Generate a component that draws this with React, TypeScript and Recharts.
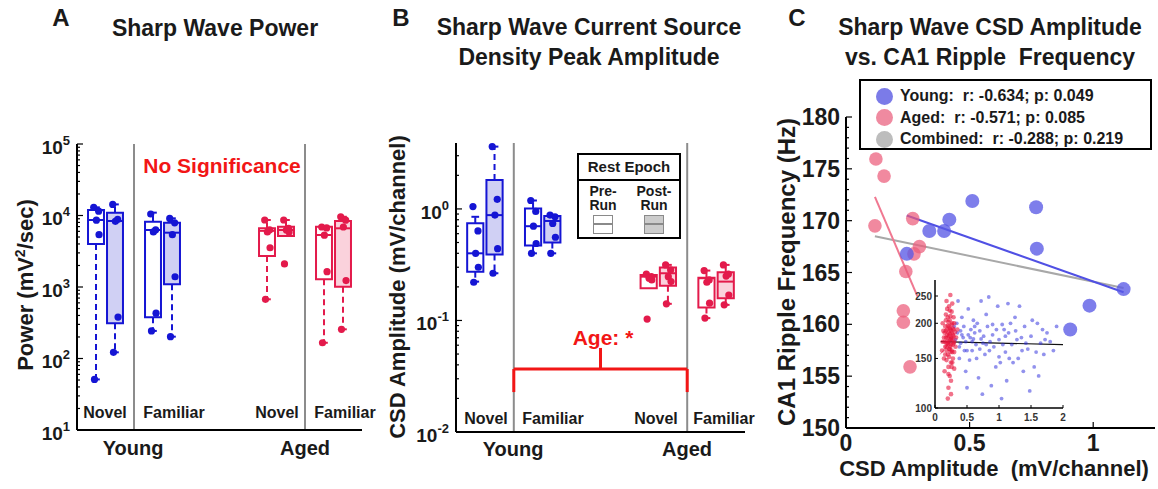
import React from "react";
import {
  ComposedChart,
  Scatter,
  XAxis,
  YAxis,
  ReferenceArea,
  ReferenceLine,
} from "recharts";

const FONT = '"Liberation Sans", Arial, Helvetica, sans-serif';
const INK = "#1a1a1a";
const BLUE = "#1515d4";
const BLUE_FILL = "#d0d0f4";
const RED = "#e31a4b";
const RED_FILL = "#fad2dc";
const SIG_RED = "#f21616";

// box positions on a numeric x axis: Young Novel pre/post, Young Familiar pre/post, Aged Novel..., Aged Familiar...
const groupPos = [1, 2, 4, 5, 10, 11, 13, 14];
const groupAge = ["young", "young", "young", "young", "aged", "aged", "aged", "aged"];
const groupEpoch = ["pre", "post", "pre", "post", "pre", "post", "pre", "post"];
const dividers = [3, 12];

// A: sharp wave power (mV^2/sec)
const powerQ1 = [3990, 310, 377, 1090, 2720, 5170, 1280, 1010];
const powerMed = [8650, 8380, 6270, 5750, 6100, 6270, 5340, 6620];
const powerQ3 = [11900, 10960, 8200, 7940, 6620, 6980, 6980, 8380];
const powerLo = [51, 122, 243, 202, 673, 5170, 166, 256];
const powerHi = [13000, 14300, 10960, 9130, 8650, 8650, 7000, 9600];
const powerPts = [
  [13000, 11500, 8600, 5400, 51],
  [14300, 8800, 8300, 380, 122],
  [10500, 6300, 5900, 430, 243],
  [9100, 7900, 5400, 1390, 202],
  [8650, 6300, 5900, 3540, 673],
  [8650, 6600, 6270, 5900, 2100],
  [6900, 6700, 5300, 1640, 166],
  [9600, 8600, 6900, 1230, 256],
];

// B: CSD peak amplitude (mV/channel)
const csdQ1 = [0.274, 0.39, 0.47, 0.5, 0.194, 0.205, 0.131, 0.158];
const csdMed = [0.4, 0.88, 0.7, 0.78, 0.247, 0.265, 0.239, 0.223];
const csdQ3 = [0.744, 1.82, 1.01, 0.865, 0.256, 0.298, 0.242, 0.27];
const csdLo = [0.223, 0.265, 0.4, 0.4, 0.194, 0.141, 0.105, 0.138];
const csdHi = [0.85, 3.62, 1.19, 0.88, 0.261, 0.315, 0.28, 0.315];
const csdPts = [
  [1.05, 0.635, 0.4, 0.3, 0.22],
  [3.62, 1.22, 0.88, 0.44, 0.265],
  [1.19, 0.95, 0.7, 0.49, 0.4],
  [0.88, 0.85, 0.74, 0.557, 0.4],
  [0.261, 0.247, 0.239, 0.231, 0.103],
  [0.315, 0.284, 0.247, 0.223, 0.141],
  [0.28, 0.231, 0.22, 0.143, 0.105],
  [0.315, 0.261, 0.25, 0.169, 0.138],
];
// "Age: *" bracket spanning Familiar (young) .. Novel (aged)
const bracketX = [3, 7.5, 12];
const bracketY = [0.0228, 0.0367, 0.0567];

// C: CSD amplitude vs CA1 ripple frequency
const youngCsd = [0.246, 0.337, 0.397, 0.418, 0.511, 0.769, 0.772, 1.123, 0.985, 0.907];
const youngFreq = [166.8, 169.0, 169.0, 170.1, 171.9, 171.3, 167.3, 163.4, 161.8, 159.5];
const agedCsd = [0.121, 0.154, 0.117, 0.27, 0.297, 0.275, 0.242, 0.232, 0.232, 0.259];
const agedFreq = [175.95, 174.3, 169.5, 170.2, 167.5, 166.8, 165.1, 161.3, 160.2, 155.9];
const youngFit = [[0.246, 170.5], [1.123, 163.1]];
const agedFit = [[0.117, 172.3], [0.289, 162.7]];
const combinedFit = [[0.117, 168.5], [1.123, 163.5]];
const legendRows = [
  { name: "Young:", stats: "r: -0.634; p: 0.049", color: "#7b7be8" },
  { name: "Aged:", stats: "r: -0.571; p: 0.085", color: "#ef8aa0" },
  { name: "Combined:", stats: "r: -0.288; p: 0.219", color: "#bdbdbd" },
];

// inset: individual events
const insetAged = [
  [0.12, 172], [0.15, 185], [0.18, 160], [0.2, 178], [0.22, 195], [0.25, 168], [0.28, 182], [0.3, 158],
  [0.14, 150], [0.17, 205], [0.21, 140], [0.24, 212], [0.27, 175], [0.19, 190], [0.23, 162], [0.26, 198],
  [0.29, 170], [0.16, 165], [0.13, 188], [0.31, 186], [0.2, 155], [0.22, 230], [0.25, 125], [0.18, 240],
  [0.27, 145], [0.15, 135], [0.24, 252], [0.21, 118], [0.33, 178], [0.11, 160], [0.26, 220], [0.19, 173],
  [0.23, 183], [0.28, 192], [0.17, 178], [0.3, 200], [0.21, 168], [0.25, 188], [0.14, 178], [0.32, 165],
  [0.2, 210], [0.28, 150], [0.24, 175], [0.18, 148], [0.26, 160], [0.22, 180], [0.16, 195], [0.29, 210],
  [0.23, 130], [0.35, 190], [0.12, 200], [0.27, 235], [0.2, 108], [0.3, 138], [0.19, 225], [0.25, 112],
  [0.21, 185], [0.24, 165], [0.27, 158], [0.18, 170], [0.22, 152], [0.26, 178], [0.2, 196], [0.29, 180],
  [0.17, 188], [0.23, 205], [0.25, 145], [0.3, 172], [0.16, 155], [0.28, 168], [0.22, 172], [0.24, 190],
  [0.19, 182], [0.21, 202], [0.23, 192], [0.26, 185], [0.18, 165], [0.24, 158], [0.27, 200], [0.2, 170],
  [0.15, 172], [0.22, 162], [0.25, 176], [0.29, 190], [0.17, 215], [0.23, 222], [0.21, 132], [0.26, 140],
];
const insetYoung = [
  [0.35, 185], [0.4, 170], [0.45, 195], [0.5, 160], [0.55, 178], [0.6, 205], [0.65, 150], [0.7, 188],
  [0.75, 170], [0.8, 215], [0.85, 160], [0.9, 182], [0.95, 140], [1.0, 175], [1.05, 198], [1.1, 158],
  [1.15, 185], [1.2, 168], [1.25, 210], [1.3, 150], [1.35, 178], [1.4, 195], [1.45, 162], [1.5, 180],
  [1.55, 140], [1.6, 200], [1.65, 170], [1.7, 155], [1.75, 185], [1.8, 172], [0.38, 150], [0.42, 210],
  [0.48, 135], [0.52, 225], [0.58, 172], [0.62, 185], [0.68, 128], [0.72, 240], [0.78, 155], [0.82, 195],
  [0.88, 120], [0.92, 165], [0.98, 230], [1.02, 145], [1.08, 190], [1.12, 125], [1.18, 200], [1.22, 145],
  [1.28, 175], [1.32, 230], [1.38, 135], [1.42, 170], [1.48, 115], [1.52, 205], [1.58, 158], [1.62, 130],
  [1.68, 190], [1.72, 175], [1.85, 160], [1.9, 195], [0.32, 175], [0.44, 178], [0.56, 190], [0.64, 168],
  [0.76, 180], [0.86, 172], [0.96, 190], [1.06, 168], [1.16, 150], [1.26, 188], [1.36, 160], [0.3, 195],
  [0.46, 160], [0.54, 148], [0.66, 200], [0.74, 112], [0.84, 248], [1.04, 108], [1.14, 235], [0.36, 240],
  [0.5, 118], [0.42, 182], [0.6, 176], [0.7, 162], [0.9, 198], [1.0, 152], [0.38, 165], [0.48, 172],
  [0.34, 200], [0.4, 188], [0.52, 182], [0.58, 160], [0.62, 195], [0.72, 176], [0.8, 168], [1.1, 180],
];
const insetFit = [[0.09, 172], [2, 168]];
const insetAgedFit = [[0.08, 155], [0.24, 172]];

const JITTER = [-0.12, 0.14, 0.02, 0.16, -0.08];

const logTicks = (lo: number, hi: number) => {
  const out: number[] = [];
  for (let e = Math.floor(Math.log10(lo)); e <= Math.ceil(Math.log10(hi)); e++) {
    for (let m = 1; m <= 9; m++) {
      const v = +(m * Math.pow(10, e)).toPrecision(6);
      if (v >= lo - 1e-12 && v <= hi + 1e-12) out.push(v);
    }
  }
  return out;
};

function LogTick(props: any) {
  const { x, y, payload } = props;
  const lg = Math.log10(payload.value);
  const e = Math.round(lg);
  const major = Math.abs(lg - e) < 1e-6;
  return (
    <g>
      <line x1={x} x2={x + (major ? 6 : 3)} y1={y} y2={y} stroke="#000" strokeWidth={1.2} />
      {major && (
        <text x={x - 7} y={y + 3} dy="0.35em" textAnchor="end" fontFamily={FONT} fontWeight="bold" fontSize={19} fill={INK}>
          10
          <tspan dy={-9} fontSize={13}>{e}</tspan>
        </text>
      )}
    </g>
  );
}

function FreqTick(props: any) {
  const { x, y, payload } = props;
  const major = payload.value % 5 === 0;
  return (
    <g>
      <line x1={x} x2={x + (major ? 6 : 3)} y1={y} y2={y} stroke="#000" strokeWidth={1.2} />
      {major && (
        <text x={x - 6} y={y} dy="0.35em" textAnchor="end" fontFamily={FONT} fontWeight="bold" fontSize={23} fill={INK}>
          {payload.value}
        </text>
      )}
    </g>
  );
}

function AmpTick(props: any) {
  const { x, y, payload } = props;
  return (
    <g>
      <line x1={x} x2={x} y1={y} y2={y - 6} stroke="#000" strokeWidth={1.2} />
      <text x={x} y={y + 15} dy="0.35em" textAnchor="middle" fontFamily={FONT} fontWeight="bold" fontSize={23} fill={INK}>
        {payload.value}
      </text>
    </g>
  );
}

function InsetYTick(props: any) {
  const { x, y, payload } = props;
  return (
    <g>
      <line x1={x} x2={x + 3} y1={y} y2={y} stroke="#000" strokeWidth={1} />
      <text x={x - 3} y={y} dy="0.35em" textAnchor="end" fontFamily={FONT} fontWeight="bold" fontSize={10} fill="#333">
        {payload.value}
      </text>
    </g>
  );
}

function InsetXTick(props: any) {
  const { x, y, payload } = props;
  return (
    <g>
      <line x1={x} x2={x} y1={y} y2={y - 3} stroke="#000" strokeWidth={1} />
      <text x={x} y={y + 9} dy="0.35em" textAnchor="middle" fontFamily={FONT} fontWeight="bold" fontSize={10} fill="#333">
        {payload.value}
      </text>
    </g>
  );
}

const dot = (fill: string, r: number, opacity = 1) => (p: any) =>
  <circle cx={p.cx} cy={p.cy} r={r} fill={fill} fillOpacity={opacity} />;

function boxMarks(q1: number[], med: number[], q3: number[], lo: number[], hi: number[]) {
  const hw = 0.42;
  const cap = 0.2;
  return groupPos.flatMap((p, i) => {
    const young = groupAge[i] === "young";
    const stroke = young ? BLUE : RED;
    const fill = groupEpoch[i] === "post" ? (young ? BLUE_FILL : RED_FILL) : "none";
    const els = [
      <ReferenceArea key={`b${i}`} x1={p - hw} x2={p + hw} y1={q1[i]} y2={q3[i]} fill={fill} fillOpacity={1} stroke={stroke} strokeWidth={2} />,
      <ReferenceLine key={`m${i}`} segment={[{ x: p - hw, y: med[i] }, { x: p + hw, y: med[i] }]} stroke={stroke} strokeWidth={2} />,
    ];
    if (hi[i] > q3[i] * 1.02) {
      els.push(
        <ReferenceLine key={`wh${i}`} segment={[{ x: p, y: q3[i] }, { x: p, y: hi[i] }]} stroke={stroke} strokeWidth={2} strokeDasharray="6 4" />,
        <ReferenceLine key={`ch${i}`} segment={[{ x: p - cap, y: hi[i] }, { x: p + cap, y: hi[i] }]} stroke={stroke} strokeWidth={2} />
      );
    }
    if (lo[i] < q1[i] * 0.98) {
      els.push(
        <ReferenceLine key={`wl${i}`} segment={[{ x: p, y: q1[i] }, { x: p, y: lo[i] }]} stroke={stroke} strokeWidth={2} strokeDasharray="6 4" />,
        <ReferenceLine key={`cl${i}`} segment={[{ x: p - cap, y: lo[i] }, { x: p + cap, y: lo[i] }]} stroke={stroke} strokeWidth={2} />
      );
    }
    return els;
  });
}

const pointData = (pts: number[][], age: string) =>
  pts.flatMap((vals, i) =>
    groupAge[i] === age ? vals.map((v, j) => ({ x: groupPos[i] + JITTER[j], y: v })) : []
  );

function BoxPanel(props: {
  width: number; margin: any; domain: [number, number];
  q1: number[]; med: number[]; q3: number[]; lo: number[]; hi: number[]; pts: number[][];
  extra?: React.ReactNode;
}) {
  const { width, margin, domain, q1, med, q3, lo, hi, pts, extra } = props;
  return (
    <ComposedChart width={width} height={489} margin={margin}>
      <XAxis type="number" dataKey="x" domain={[0, 15]} ticks={[]} tick={false} tickLine={false} height={20}
        axisLine={{ stroke: "#000", strokeWidth: 2 }} allowDataOverflow />
      <YAxis type="number" dataKey="y" scale="log" domain={domain} allowDataOverflow width={60}
        ticks={logTicks(domain[0], domain[1])} interval={0} tick={<LogTick />} tickLine={false}
        tickSize={0} tickMargin={0} axisLine={{ stroke: "#000", strokeWidth: 2 }} />
      {dividers.map((d) => (
        <ReferenceLine key={`d${d}`} x={d} stroke="#8c8c8c" strokeWidth={2} />
      ))}
      {boxMarks(q1, med, q3, lo, hi)}
      {extra}
      <Scatter data={pointData(pts, "young")} shape={dot(BLUE, 3.6)} isAnimationActive={false} />
      <Scatter data={pointData(pts, "aged")} shape={dot(RED, 3.6)} isAnimationActive={false} />
    </ComposedChart>
  );
}

function Txt(props: { x: number; y: number; size: number; color?: string; rotate?: number; children: React.ReactNode }) {
  const { x, y, size, color = INK, rotate = 0, children } = props;
  return (
    <div
      style={{
        position: "absolute", left: x, top: y, transform: `translate(-50%, -50%) rotate(${rotate}deg)`,
        fontFamily: FONT, fontWeight: 700, fontSize: size, color, whiteSpace: "pre", lineHeight: 1,
      }}
    >
      {children}
    </div>
  );
}

const seg = (pts: number[][]) => [{ x: pts[0][0], y: pts[0][1] }, { x: pts[1][0], y: pts[1][1] }];

export default function App() {
  const bracket = [
    <ReferenceLine key="bl" segment={[{ x: bracketX[0], y: bracketY[0] }, { x: bracketX[0], y: bracketY[1] }]} stroke={SIG_RED} strokeWidth={3} />,
    <ReferenceLine key="bh1" segment={[{ x: bracketX[0], y: bracketY[1] }, { x: bracketX[2], y: bracketY[1] }]} stroke={SIG_RED} strokeWidth={3} />,
    <ReferenceLine key="br" segment={[{ x: bracketX[2], y: bracketY[0] }, { x: bracketX[2], y: bracketY[1] }]} stroke={SIG_RED} strokeWidth={3} />,
    <ReferenceLine key="bt" segment={[{ x: bracketX[1], y: bracketY[1] }, { x: bracketX[1], y: bracketY[2] }]} stroke={SIG_RED} strokeWidth={3} />,
  ];
  const freqTicks = Array.from({ length: 31 }, (_, i) => 150 + i);

  return (
    <div style={{ position: "absolute", left: 0, top: 0, width: 1158, height: 489, background: "#fff", overflow: "hidden" }}>
      {/* A */}
      <div style={{ position: "absolute", left: 0, top: 0 }}>
        <BoxPanel width={380} margin={{ top: 144, right: 18, bottom: 39, left: 17 }} domain={[10, 100000]}
          q1={powerQ1} med={powerMed} q3={powerQ3} lo={powerLo} hi={powerHi} pts={powerPts} />
      </div>
      {/* B */}
      <div style={{ position: "absolute", left: 380, top: 0 }}>
        <BoxPanel width={380} margin={{ top: 143, right: 15, bottom: 37, left: 16 }} domain={[0.01, 3.9]}
          q1={csdQ1} med={csdMed} q3={csdQ3} lo={csdLo} hi={csdHi} pts={csdPts} extra={bracket} />
      </div>
      {/* C */}
      <div style={{ position: "absolute", left: 760, top: 0 }}>
        <ComposedChart width={398} height={489} margin={{ top: 117, right: 3, bottom: 41, left: 26 }}>
          <XAxis type="number" dataKey="x" domain={[0, 1.25]} allowDataOverflow ticks={[0, 0.5, 1]} interval={0}
            tick={<AmpTick />} tickLine={false} tickSize={0} tickMargin={0} height={20}
            axisLine={{ stroke: "#000", strokeWidth: 2 }} />
          <YAxis type="number" dataKey="y" domain={[150, 180]} allowDataOverflow ticks={freqTicks} interval={0}
            tick={<FreqTick />} tickLine={false} tickSize={0} tickMargin={0} width={60}
            axisLine={{ stroke: "#000", strokeWidth: 2 }} />
          <Scatter data={agedCsd.map((x, i) => ({ x, y: agedFreq[i] }))} shape={dot("#ec5c7a", 6.8, 0.72)} isAnimationActive={false} />
          <Scatter data={youngCsd.map((x, i) => ({ x, y: youngFreq[i] }))} shape={dot("#5a5ae6", 7, 0.78)} isAnimationActive={false} />
          <ReferenceLine segment={seg(combinedFit)} stroke="#a8a8a8" strokeWidth={2} />
          <ReferenceLine segment={seg(youngFit)} stroke="#5050e4" strokeWidth={2} />
          <ReferenceLine segment={seg(agedFit)} stroke="#f07891" strokeWidth={2} />
        </ComposedChart>
      </div>
      {/* C inset */}
      <div style={{ position: "absolute", left: 895, top: 270 }}>
        <ComposedChart width={175} height={160} margin={{ top: 10, right: 7, bottom: 10, left: 10 }}>
          <XAxis type="number" dataKey="x" domain={[0, 2]} allowDataOverflow ticks={[0, 0.5, 1, 1.5, 2]} interval={0}
            tick={<InsetXTick />} tickLine={false} tickSize={0} tickMargin={0} height={12}
            axisLine={{ stroke: "#000", strokeWidth: 1.5 }} />
          <YAxis type="number" dataKey="y" scale="log" domain={[100, 285]} allowDataOverflow ticks={[100, 150, 200, 250]}
            interval={0} tick={<InsetYTick />} tickLine={false} tickSize={0} tickMargin={0} width={30}
            axisLine={{ stroke: "#000", strokeWidth: 1.5 }} />
          <Scatter data={insetYoung.map(([x, y]) => ({ x, y }))} shape={dot("#2525dc", 1.9, 0.5)} isAnimationActive={false} />
          <Scatter data={insetAged.map(([x, y]) => ({ x, y }))} shape={dot("#e8143c", 2.3, 0.6)} isAnimationActive={false} />
          <ReferenceLine segment={seg(insetAgedFit)} stroke="#f07891" strokeWidth={1} />
          <ReferenceLine segment={seg(insetFit)} stroke="#111" strokeWidth={1.2} />
        </ComposedChart>
      </div>

      {/* titles */}
      <Txt x={61} y={18} size={24}>A</Txt>
      <Txt x={215} y={28} size={23}>Sharp Wave Power</Txt>
      <Txt x={401} y={18} size={24}>B</Txt>
      <Txt x={589} y={27} size={23}>Sharp Wave Current Source</Txt>
      <Txt x={589} y={57} size={23}>Density Peak Amplitude</Txt>
      <Txt x={797} y={18} size={24}>C</Txt>
      <Txt x={990} y={27} size={23}>Sharp Wave CSD Amplitude</Txt>
      <Txt x={990} y={57} size={23}>vs. CA1 Ripple  Frequency</Txt>

      {/* axis titles */}
      <Txt x={25} y={285} size={22} rotate={-90}>
        Power (mV<span style={{ fontSize: 14, verticalAlign: "super" }}>2</span>/sec)
      </Txt>
      <Txt x={398} y={287} size={22} rotate={-90}>CSD Amplitude (mV/channel)</Txt>
      <Txt x={787} y={272} size={24} rotate={-90}>CA1 Ripple Frequency (Hz)</Txt>
      <Txt x={994} y={469} size={22}>CSD Amplitude  (mV/channel)</Txt>

      {/* group labels */}
      <Txt x={105} y={413} size={16}>Novel</Txt>
      <Txt x={174} y={413} size={16}>Familiar</Txt>
      <Txt x={277} y={413} size={16}>Novel</Txt>
      <Txt x={345} y={413} size={16}>Familiar</Txt>
      <Txt x={133} y={448} size={20}>Young</Txt>
      <Txt x={305} y={448} size={20}>Aged</Txt>
      <Txt x={486} y={419} size={16}>Novel</Txt>
      <Txt x={553} y={419} size={16}>Familiar</Txt>
      <Txt x={656} y={419} size={16}>Novel</Txt>
      <Txt x={724} y={419} size={16}>Familiar</Txt>
      <Txt x={513} y={449} size={20}>Young</Txt>
      <Txt x={687} y={449} size={20}>Aged</Txt>

      <Txt x={222} y={165} size={21} color={SIG_RED}>No Significance</Txt>
      <Txt x={603} y={337} size={21} color={SIG_RED}>Age: *</Txt>

      {/* B legend */}
      <div style={{ position: "absolute", left: 577, top: 153, width: 104, height: 86, border: "2px solid #000", boxSizing: "border-box", background: "#fff", fontFamily: FONT, fontWeight: 700, color: INK }}>
        <div style={{ height: 24, borderBottom: "2px solid #000", fontSize: 15, lineHeight: "24px", textAlign: "center", whiteSpace: "nowrap" }}>Rest Epoch</div>
        {[{ label: ["Pre-", "Run"], cx: 24, fill: "#fff" }, { label: ["Post-", "Run"], cx: 75, fill: "#cccccc" }].map((e) => (
          <div key={e.label[0]}>
            <div style={{ position: "absolute", left: e.cx, top: 29, transform: "translateX(-50%)", fontSize: 14, lineHeight: "14px", textAlign: "center" }}>
              {e.label[0]}<br />{e.label[1]}
            </div>
            <div style={{ position: "absolute", left: e.cx - 10, top: 60, width: 20, height: 19, border: "1.5px solid #8a8a8a", boxSizing: "border-box", background: e.fill }}>
              <div style={{ position: "absolute", left: 0, right: 0, top: 7, height: 1.5, background: "#8a8a8a" }} />
            </div>
          </div>
        ))}
      </div>

      {/* C legend */}
      <div style={{ position: "absolute", left: 859, top: 79, width: 293, height: 71, border: "2px solid #000", boxSizing: "border-box", background: "#fff", fontFamily: FONT, fontWeight: 700, color: INK }}>
        {legendRows.map((r, i) => (
          <div key={r.name} style={{ position: "absolute", left: 15, top: 5 + i * 21.5, height: 20, display: "flex", alignItems: "center", whiteSpace: "pre", fontSize: 16 }}>
            <span style={{ width: 17, height: 17, borderRadius: 9, background: r.color, marginRight: 7, display: "inline-block" }} />
            {r.name}  {r.stats}
          </div>
        ))}
      </div>
    </div>
  );
}
